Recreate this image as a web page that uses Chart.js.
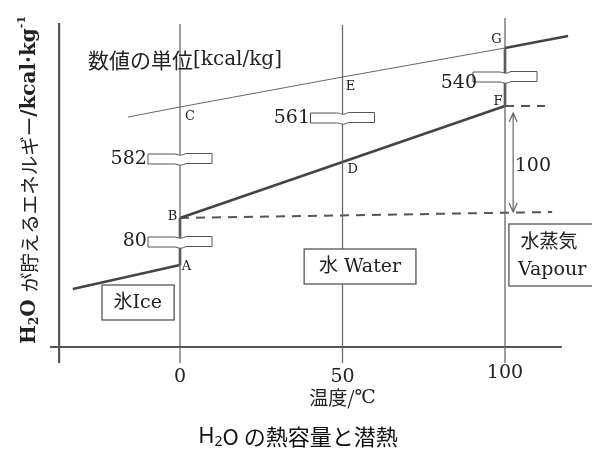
<!DOCTYPE html>
<html>
<head>
<meta charset="utf-8">
<script src="https://cdn.jsdelivr.net/npm/chart.js@4/dist/chart.umd.min.js"></script>
<style>
html, body { margin: 0; padding: 0; background: #fff; }
#wrap { width: 592px; height: 455px; }
</style>
</head>
<body>
<div id="wrap"><canvas id="heatChart"></canvas></div>
<script>
// 温度の目盛 (℃)
const xTicks = [0, 50, 100];

// 各線の点 (x: 温度℃, y: 図上のエネルギー量・目盛なし)
const iceX = [-33, 0], iceY = [58, 82];
const meltX = [0, 0], meltY = [82, 129];
const waterX = [0, 50, 100], waterY = [129, 185, 241];
const boilX = [100, 100], boilY = [241, 299];
const vapourX = [100, 119.4], vapourY = [299, 311];
const refX = [-16, 0, 50, 100], refY = [230, 240, 270, 299];
const dashBX = [0, 114.5], dashBY = [129, 135];
const dashFX = [100, 112.3], dashFY = [241, 241];

// 値ラベル (kcal/kg)
const heatValues = ['582', '561', '540', '80', '100'];

const SERIF = "'DejaVu Serif', 'Noto Sans CJK JP', serif";
const CJK = "'Noto Sans CJK JP', sans-serif";
const pts = (xs, ys) => xs.map((v, i) => ({ x: v, y: ys[i] }));

function lineSet(data, color, width, dash) {
    return {
        data: data,
        borderColor: color,
        borderWidth: width,
        borderDash: dash || [],
        pointRadius: 0,
        tension: 0,
        fill: false,
        borderCapStyle: 'butt'
    };
}

// 目盛線・軸
const guides = [
    lineSet(pts([0, 0], [-16, 323]), '#6a6a6a', 1.3),
    lineSet(pts([50, 50], [-16, 322]), '#6a6a6a', 1.3),
    lineSet(pts([100, 100], [-16, 329]), '#6a6a6a', 1.3),
    lineSet(pts([-37.2, -37.2], [-16, 324]), '#555', 2.2),
    lineSet(pts([-40, 117.5], [0, 0]), '#555', 2.2)
];

const curves = [
    lineSet(pts(refX, refY), '#666', 1),
    lineSet(pts(iceX, iceY), '#444', 2.6),
    lineSet(pts(meltX, meltY), '#444', 2.6),
    lineSet(pts(waterX, waterY), '#444', 2.6),
    lineSet(pts(boilX, boilY), '#444', 2.6),
    lineSet(pts(vapourX, vapourY), '#444', 2.6),
    lineSet(pts(dashBX, dashBY), '#555', 2, [9, 7]),
    lineSet(pts(dashFX, dashFY), '#555', 2, [9, 7])
];

// 文字の位置 (データ座標)
const notes = [
    { t: 'C', x: 1.5, y: 230, a: 'left', s: 13 },
    { t: 'E', x: 51, y: 260, a: 'left', s: 13 },
    { t: 'D', x: 51.5, y: 177, a: 'left', s: 13 },
    { t: 'A', x: 0.5, y: 80, a: 'left', s: 13 },
    { t: 'B', x: -0.8, y: 130, a: 'right', s: 13 },
    { t: 'F', x: 99.2, y: 245, a: 'right', s: 13 },
    { t: 'G', x: 99, y: 307, a: 'right', s: 13 },
    { t: heatValues[0], x: -10.2, y: 188, a: 'right', s: 19 },
    { t: heatValues[1], x: 40, y: 229, a: 'right', s: 19 },
    { t: heatValues[2], x: 91.4, y: 264, a: 'right', s: 19 },
    { t: heatValues[3], x: -10.2, y: 106, a: 'right', s: 19 },
    { t: heatValues[4], x: 103, y: 181, a: 'left', s: 19 }
];
const breaks = [[0, 188], [50, 229], [100, 270], [0, 105]];
const boxes = [
    { x0: -24, x1: -1.8, y0: 62, y1: 27, lines: [['氷Ice', -13, 44, 'center']] },
    { x0: 38.2, x1: 72.6, y0: 98, y1: 63, lines: [['水 Water', 55.4, 80, 'center']] },
    { x0: 101.2, x1: 130, y0: 123, y1: 61, lines: [['水蒸気', 104.8, 104, 'left'], ['Vapour', 104, 77, 'left']] }
];

function runs(ctx, parts, x, y) {
    // parts: [text, size, dy, weight, family]
    let cx = x;
    parts.forEach(p => {
        ctx.font = p[3] + ' ' + p[1] + 'px ' + p[4];
        ctx.fillText(p[0], cx, y + p[2]);
        cx += ctx.measureText(p[0]).width;
    });
}
function runsWidth(ctx, parts) {
    let w = 0;
    parts.forEach(p => {
        ctx.font = p[3] + ' ' + p[1] + 'px ' + p[4];
        w += ctx.measureText(p[0]).width;
    });
    return w;
}

const deco = {
    id: 'deco',
    afterDatasetsDraw(chart) {
        const { ctx, scales: { x, y } } = chart;
        const px = v => x.getPixelForValue(v), py = v => y.getPixelForValue(v);
        ctx.save();

        // 破断記号
        ctx.lineWidth = 1;
        ctx.strokeStyle = '#555';
        ctx.fillStyle = '#fff';
        breaks.forEach(([bx, by]) => {
            const cx = px(bx), cy = py(by), l = cx - 32, r = cx + 32;
            ctx.beginPath();
            ctx.moveTo(l, cy - 5);
            ctx.lineTo(cx - 6, cy - 5);
            ctx.bezierCurveTo(cx - 1, cy - 5, cx - 1, cy - 2, cx + 6, cy - 5.5);
            ctx.lineTo(r, cy - 5.5);
            ctx.lineTo(r, cy + 4.5);
            ctx.lineTo(cx + 6, cy + 4.5);
            ctx.bezierCurveTo(cx - 1, cy + 8, cx - 1, cy + 5, cx - 6, cy + 5);
            ctx.lineTo(l, cy + 5);
            ctx.closePath();
            ctx.fill();
            ctx.stroke();
        });

        // 枠
        ctx.strokeStyle = '#555';
        ctx.lineWidth = 1.3;
        ctx.textBaseline = 'middle';
        boxes.forEach(b => {
            ctx.fillStyle = '#fff';
            ctx.fillRect(px(b.x0), py(b.y0), px(b.x1) - px(b.x0), py(b.y1) - py(b.y0));
            ctx.strokeRect(px(b.x0), py(b.y0), px(b.x1) - px(b.x0), py(b.y1) - py(b.y0));
            ctx.fillStyle = '#222';
            ctx.font = '19px ' + SERIF;
            b.lines.forEach(([t, tx, ty, a]) => {
                ctx.textAlign = a;
                ctx.fillText(t, px(tx), py(ty));
            });
        });

        // 矢印 (100 kcal)
        const ax = px(102.5), ay0 = py(234), ay1 = py(135);
        ctx.strokeStyle = '#666';
        ctx.lineWidth = 1.2;
        ctx.beginPath();
        ctx.moveTo(ax, ay0); ctx.lineTo(ax, ay1);
        ctx.moveTo(ax - 4, ay0 + 9); ctx.lineTo(ax, ay0); ctx.lineTo(ax + 4, ay0 + 9);
        ctx.moveTo(ax - 4, ay1 - 9); ctx.lineTo(ax, ay1); ctx.lineTo(ax + 4, ay1 - 9);
        ctx.stroke();

        // 文字
        ctx.fillStyle = '#222';
        notes.forEach(n => {
            ctx.font = n.s + 'px ' + SERIF;
            ctx.textAlign = n.a;
            ctx.fillText(n.t, px(n.x), py(n.y));
        });
        ctx.textAlign = 'left';
        runs(ctx, [
            ['数値の単位', 21, 0, '', CJK],
            ['[kcal/kg]', 20, 0, '', SERIF]
        ], px(-28.3), py(287));

        // x 目盛
        ctx.textAlign = 'center';
        ctx.font = '19px ' + SERIF;
        xTicks.forEach(v => ctx.fillText(String(v), px(v), v === 100 ? 373 : 377));
        ctx.textAlign = 'left';
        const xt = [['温度/', 19, 0, '', CJK], ['℃', 19, 0, '', SERIF]];
        runs(ctx, xt, px(50) - runsWidth(ctx, xt) / 2, 398);

        // y 軸タイトル (回転)
        ctx.save();
        ctx.translate(30, 344);
        ctx.rotate(-Math.PI / 2);
        ctx.textAlign = 'left';
        ctx.textBaseline = 'middle';
        runs(ctx, [
            ['H', 20, 0, 'bold', SERIF],
            ['2', 12, 5, 'bold', SERIF],
            ['O ', 20, 0, 'bold', SERIF],
            ['が貯えるエネルギー', 19.5, 0, '', CJK],
            ['/kcal·kg', 20, 0, 'bold', SERIF],
            ['-1', 11, -8, 'bold', SERIF]
        ], 0, 0);
        ctx.restore();

        // 図タイトル
        const tParts = [
            ['H', 22, 0, '', "'Noto Sans', 'Noto Sans CJK JP', sans-serif"],
            ['2', 14, 5, '', "'Noto Sans', 'Noto Sans CJK JP', sans-serif"],
            ['O の熱容量と潜熱', 22, 0, '', CJK]
        ];
        ctx.fillStyle = '#111';
        runs(ctx, tParts, 298 - runsWidth(ctx, tParts) / 2, 437);

        ctx.restore();
    }
};

const ctx = document.getElementById('heatChart').getContext('2d');
const heatChart = new Chart(ctx, {
    type: 'line',
    data: { datasets: guides.concat(curves) },
    options: {
        responsive: true,
        maintainAspectRatio: false,
        animation: false,
        layout: { padding: { left: 50, right: 22, top: 18, bottom: 92 } },
        plugins: { legend: { display: false }, tooltip: { enabled: false } },
        scales: {
            x: { type: 'linear', min: -40, max: 120, display: false },
            y: { type: 'linear', min: -16, max: 329, display: false }
        }
    },
    plugins: [deco]
});
</script>
</body>
</html>
